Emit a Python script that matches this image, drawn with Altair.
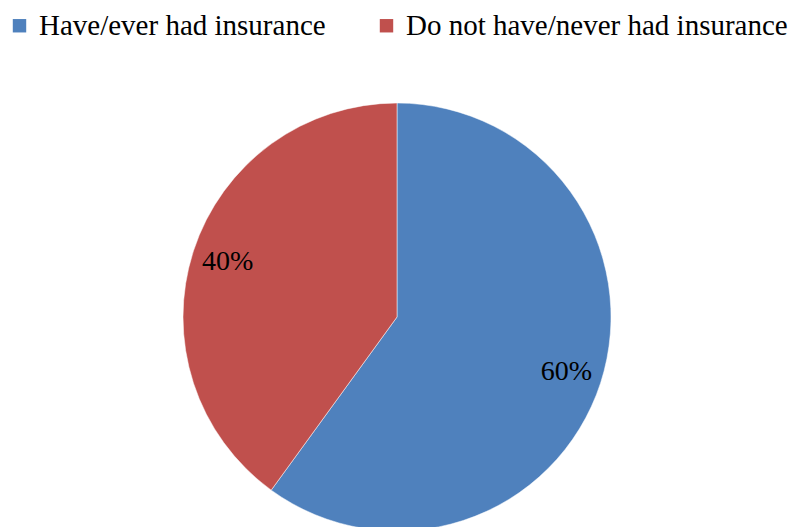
import altair as alt
import pandas as pd

categories = ["Have/ever had  insurance", "Do not have/never had insurance"]
values = [60, 40]
labels = ["60%", "40%"]
colors = ["#4F81BD", "#C0504D"]

df = pd.DataFrame({"cat": categories, "val": values, "lab": labels, "ord": [0, 1]})

base = alt.Chart(df).encode(
    theta=alt.Theta("val:Q", stack=True),
    order=alt.Order("ord:Q"),
)

color = alt.Color(
    "cat:N",
    scale=alt.Scale(domain=categories, range=colors),
    sort=categories,
    legend=alt.Legend(
        title=None,
        orient="none",
        legendX=-3,
        legendY=3,
        padding=0,
        direction="horizontal",
        symbolType="square",
        symbolSize=180,
        symbolStrokeWidth=0,
        labelFont="Liberation Serif",
        labelFontSize=29,
        labelColor="black",
        labelOffset=5,
        columnPadding=39,
        labelLimit=500,
    ),
)

pie = base.mark_arc(radius=214, stroke="white", strokeWidth=0.5).encode(
    color=color,
    x=alt.value(389),
    y=alt.value(309),
)

text = base.mark_text(
    radius=178, font="Liberation Serif", fontSize=28, color="black"
).encode(
    text="lab:N",
    x=alt.value(389),
    y=alt.value(309),
)

chart = alt.layer(pie, text).properties(
    width=790, height=519, autosize=alt.AutoSizeParams(type="none"), padding=0
).configure_view(stroke=None)

chart.save("out.html", embed_options={"renderer": "svg", "actions": False})
